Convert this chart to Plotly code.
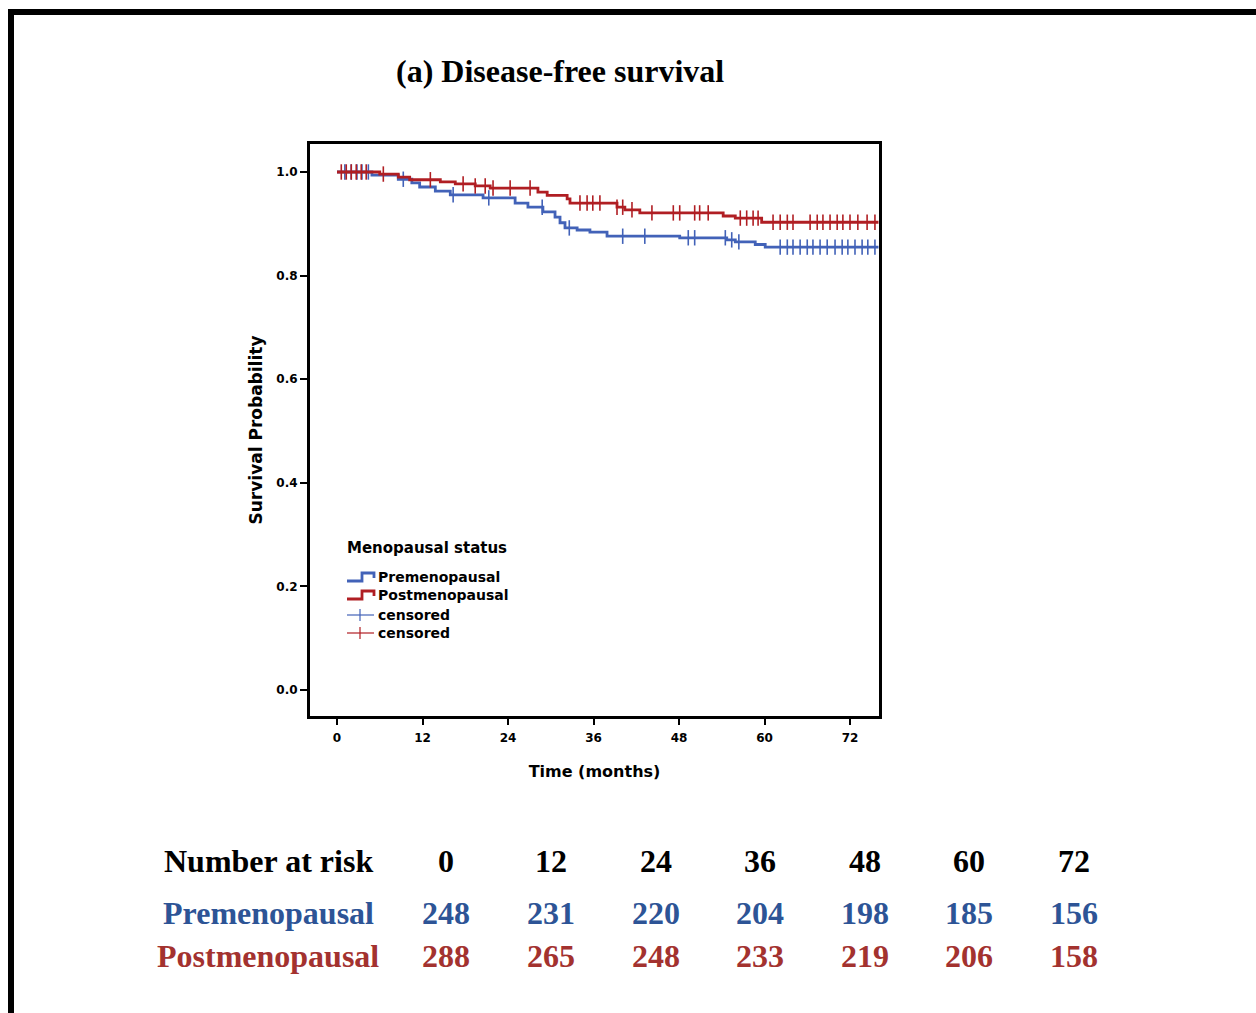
import numpy as np
import plotly.graph_objects as go

# ---- Kaplan-Meier estimates (time in months, survival after each event) ----
pre_event_t = [4.9, 8.6, 10.5, 11.6, 13.8, 15.9, 20.5, 25.0, 26.8, 28.9, 30.6, 31.3,
               32.0, 33.7, 35.5, 37.9, 48.1, 54.7, 55.9, 58.7, 60.1]
pre_surv = [0.994, 0.986, 0.979, 0.971, 0.963, 0.956, 0.950, 0.940, 0.932, 0.923, 0.913, 0.902,
            0.892, 0.888, 0.884, 0.876, 0.873, 0.869, 0.865, 0.860, 0.855]
pre_censor_t = [1.1, 2.0, 2.8, 3.5, 4.4, 9.3, 16.3, 21.3, 28.8, 32.6, 40.1, 43.2, 49.3, 50.2,
                54.5, 55.4, 56.4, 62.2, 63.2, 64.0, 65.0, 66.0, 66.8, 67.8, 68.8, 69.9,
                70.9, 71.7, 72.7, 73.7, 74.5, 75.5]

post_event_t = [6.0, 8.6, 10.2, 14.5, 16.6, 19.4, 21.5, 28.2, 29.5, 32.3, 32.7, 39.3,
                40.4, 42.5, 54.2, 55.9, 59.6]
post_surv = [0.996, 0.990, 0.985, 0.981, 0.977, 0.973, 0.969, 0.961, 0.955, 0.948, 0.940, 0.932,
             0.927, 0.921, 0.915, 0.911, 0.903]
post_censor_t = [0.6, 1.3, 2.0, 2.7, 3.4, 4.1, 6.5, 13.1, 17.7, 19.4, 20.8, 21.9, 24.3, 27.1,
                 34.1, 35.1, 35.9, 36.9, 39.3, 40.1, 41.4, 44.2, 47.2, 48.1, 50.2, 50.9,
                 52.1, 56.6, 57.5, 58.4, 59.1, 61.2, 62.2, 63.2, 64.0, 66.4, 67.4, 68.2,
                 69.2, 70.2, 71.0, 72.0, 73.1, 74.4, 75.5]
follow_up_end = 76.0

# ---- Number at risk table ----
risk_times = [0, 12, 24, 36, 48, 60, 72]
risk_pre = [248, 231, 220, 204, 198, 185, 156]
risk_post = [288, 265, 248, 233, 219, 206, 158]

groups = ["Premenopausal", "Postmenopausal"]
curve_colors = ["#4262B8", "#B01E23"]
table_colors = ["#2D5496", "#A3322F"]

W, H = 1256, 1013


def px_x(p):
    return p / W


def px_y(p):
    return 1 - p / H


def step_curve(times, surv, end):
    xs = [0.0] + list(times) + [end]
    ys = [1.0] + list(surv) + [surv[-1]]
    return xs, ys


def surv_at(times, surv, t):
    idx = np.searchsorted(np.array(times), np.array(t), side="right")
    vals = np.concatenate([[1.0], np.array(surv)])
    return vals[idx]


fig = go.Figure()

series = [
    (pre_event_t, pre_surv, pre_censor_t),
    (post_event_t, post_surv, post_censor_t),
]
for (et, sv, ct), name, col in zip(series, groups, curve_colors):
    xs, ys = step_curve(et, sv, follow_up_end)
    fig.add_trace(go.Scatter(x=xs, y=ys, mode="lines", line=dict(color=col, width=2.8, shape="hv"),
                             name=name, showlegend=False, hoverinfo="skip"))
    fig.add_trace(go.Scatter(x=ct, y=surv_at(et, sv, ct), mode="markers",
                             marker=dict(symbol="line-ns", size=11, line=dict(color=col, width=1.6)),
                             name="censored", showlegend=False, hoverinfo="skip"))

sans = "DejaVu Sans"
axis_common = dict(
    showline=True, linecolor="black", linewidth=3, mirror=True,
    ticks="outside", tickcolor="black", tickwidth=1.5,
    showgrid=False, zeroline=False,
    tickfont=dict(family=sans, size=12, color="black", weight="bold"),
)

fig.update_layout(
    width=W, height=H, autosize=False,
    margin=dict(l=0, r=0, t=0, b=0),
    paper_bgcolor="white", plot_bgcolor="white",
    showlegend=False,
    xaxis=dict(domain=[px_x(310), px_x(879)], range=[-3.79, 76.07],
               tickvals=risk_times, ticklen=6, ticklabelstandoff=3, automargin=False,
               title=dict(text="Time (months)", standoff=22,
                          font=dict(family=sans, size=16, color="black", weight="bold")),
               **axis_common),
    yaxis=dict(domain=[px_y(716), px_y(144)], range=[-0.050, 1.054],
               tickvals=[0, 0.2, 0.4, 0.6, 0.8, 1.0], tickformat=".1f", ticklen=7, automargin=False,
               title=dict(text="Survival Probability", standoff=10,
                          font=dict(family=sans, size=17, color="black", weight="bold")),
               **axis_common),
)

# Outer frame (thick black bars top and left)
fig.add_shape(type="rect", xref="paper", yref="paper", x0=px_x(8), x1=1.0, y0=px_y(15), y1=px_y(9),
              fillcolor="black", line=dict(width=0), layer="above")
fig.add_shape(type="rect", xref="paper", yref="paper", x0=px_x(8), x1=px_x(14), y0=0, y1=px_y(9),
              fillcolor="black", line=dict(width=0), layer="above")

# Title
fig.add_annotation(text="<b>(a) Disease-free survival</b>", xref="paper", yref="paper",
                   x=px_x(560), y=px_y(71), xanchor="center", yanchor="middle", showarrow=False,
                   font=dict(family="Liberation Serif", size=32, color="black"))

# Legend block
leg_font = dict(family=sans, size=14, color="black", weight="bold")
fig.add_annotation(text="Menopausal status", xref="paper", yref="paper", x=px_x(345), y=px_y(548),
                   xanchor="left", yanchor="middle", showarrow=False,
                   font=dict(family=sans, size=15, color="black", weight="bold"))
legend_rows = [577, 595, 615, 633]
legend_labels = groups + ["censored", "censored"]
for i, (yy, lab) in enumerate(zip(legend_rows, legend_labels)):
    fig.add_annotation(text=lab, xref="paper", yref="paper", x=px_x(376), y=px_y(yy),
                       xanchor="left", yanchor="middle", showarrow=False, font=leg_font)
    col = curve_colors[i % 2]
    if i < 2:
        path = (f"M {px_x(347)},{px_y(yy + 4)} L {px_x(362)},{px_y(yy + 4)} "
                f"L {px_x(362)},{px_y(yy - 4)} L {px_x(374)},{px_y(yy - 4)} "
                f"L {px_x(374)},{px_y(yy + 1)}")
        fig.add_shape(type="path", xref="paper", yref="paper", path=path,
                      line=dict(color=col, width=2.8))
    else:
        fig.add_shape(type="line", xref="paper", yref="paper", x0=px_x(347), x1=px_x(374),
                      y0=px_y(yy), y1=px_y(yy), line=dict(color=col, width=1.2))
        fig.add_shape(type="line", xref="paper", yref="paper", x0=px_x(360), x1=px_x(360),
                      y0=px_y(yy - 6), y1=px_y(yy + 6), line=dict(color=col, width=1.2))

# Number at risk table
col_x = [446, 551, 656, 760, 865, 969, 1074]
row_y = [861, 913, 956]
tfont = dict(family="Liberation Serif", size=32)
fig.add_annotation(text="<b>Number at risk</b>", xref="paper", yref="paper", x=px_x(268), y=px_y(row_y[0]),
                   xanchor="center", yanchor="middle", showarrow=False, font=dict(color="black", **tfont))
for t, cx in zip(risk_times, col_x):
    fig.add_annotation(text=f"<b>{t}</b>", xref="paper", yref="paper", x=px_x(cx), y=px_y(row_y[0]),
                       xanchor="center", yanchor="middle", showarrow=False, font=dict(color="black", **tfont))
for name, vals, col, ry in zip(groups, [risk_pre, risk_post], table_colors, row_y[1:]):
    fig.add_annotation(text=f"<b>{name}</b>", xref="paper", yref="paper", x=px_x(268), y=px_y(ry),
                       xanchor="center", yanchor="middle", showarrow=False, font=dict(color=col, **tfont))
    for v, cx in zip(vals, col_x):
        fig.add_annotation(text=f"<b>{v}</b>", xref="paper", yref="paper", x=px_x(cx), y=px_y(ry),
                           xanchor="center", yanchor="middle", showarrow=False, font=dict(color=col, **tfont))

fig.write_html("out.html")
